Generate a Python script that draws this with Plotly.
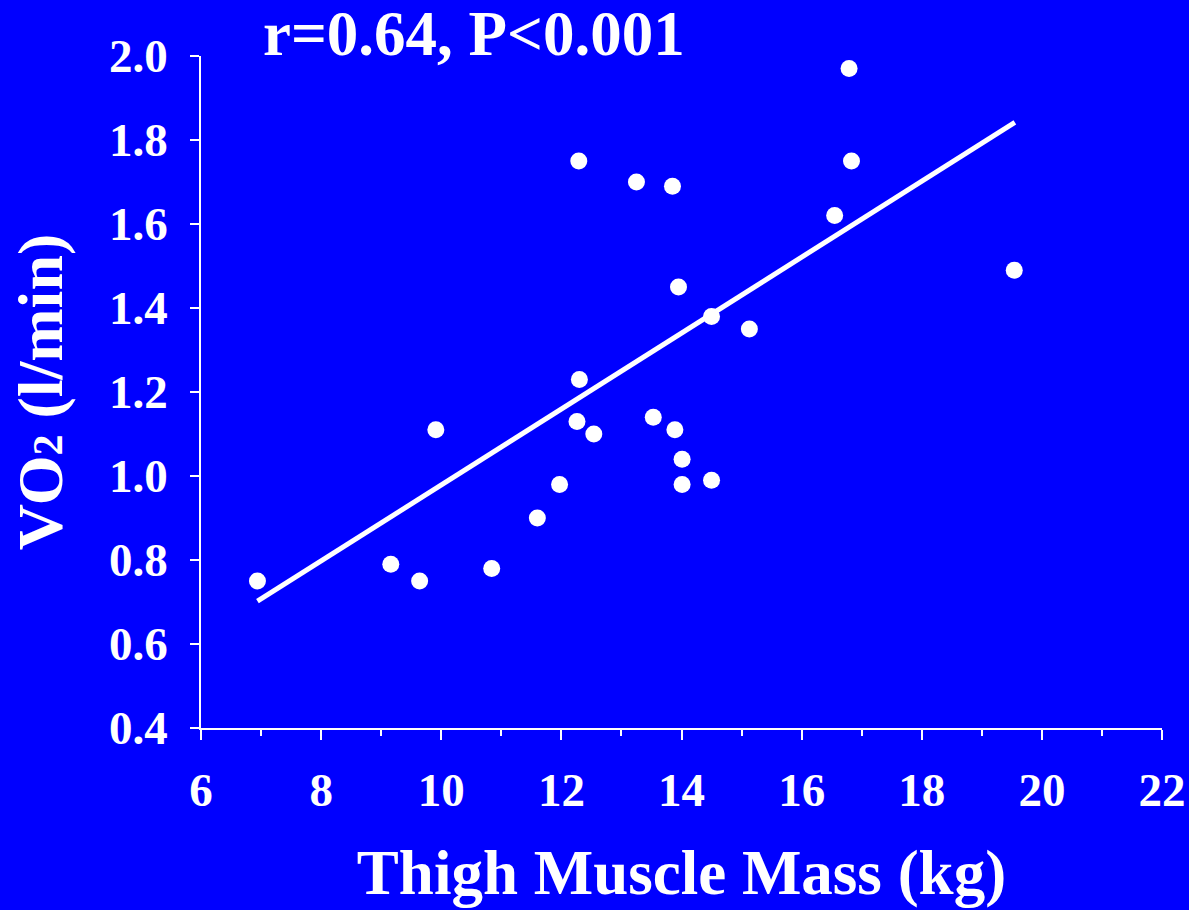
import plotly.graph_objects as go

# Data
thigh_mass = [6.94, 9.16, 9.64, 9.91, 10.84, 11.60, 11.97, 12.30, 12.26, 12.54,
              13.53, 13.89, 14.01, 14.01, 14.50, 16.79, 12.29, 16.83, 13.25, 13.85,
              16.55, 13.95, 14.50, 15.13, 19.54]
vo2 = [0.75, 0.79, 0.75, 1.11, 0.78, 0.90, 0.98, 1.23, 1.13, 1.10,
       1.14, 1.11, 1.04, 0.98, 0.99, 1.97, 1.75, 1.75, 1.70, 1.69,
       1.62, 1.45, 1.38, 1.35, 1.49]
fit_x = [6.94, 19.55]
fit_y = [0.702, 1.842]

x_ticks = [6, 8, 10, 12, 14, 16, 18, 20, 22]
y_ticks = [0.4, 0.6, 0.8, 1.0, 1.2, 1.4, 1.6, 1.8, 2.0]
y_tick_labels = ["0.4", "0.6", "0.8", "1.0", "1.2", "1.4", "1.6", "1.8", "2.0"]

stat_text = "r=0.64, P<0.001"
x_title = "Thigh Muscle Mass (kg)"
y_title = 'VO<span style="font-size:42px">2</span> (l/min)'

BG = "#0000FF"
FONT = "Liberation Serif"

fig = go.Figure()
fig.add_trace(go.Scatter(
    x=fit_x, y=fit_y, mode="lines",
    line=dict(color="white", width=5),
    hoverinfo="skip", showlegend=False,
))
fig.add_trace(go.Scatter(
    x=thigh_mass, y=vo2, mode="markers",
    marker=dict(color="white", size=17, line=dict(width=0)),
    cliponaxis=False, showlegend=False,
))

fig.update_layout(
    width=1189, height=910,
    margin=dict(l=201, r=27, t=56, b=182),
    paper_bgcolor=BG, plot_bgcolor=BG,
    font=dict(family=FONT, color="white", weight="bold"),
    xaxis=dict(
        range=[6, 22], tickvals=x_ticks, ticktext=[str(v) for v in x_ticks],
        showgrid=False, zeroline=False,
        showline=True, linecolor="white", linewidth=1.5,
        ticks="outside", ticklen=10, tickwidth=1.5, tickcolor="white",
        minor=dict(dtick=1, tick0=7, ticks="outside", ticklen=6, tickwidth=1.5, tickcolor="white", showgrid=False),
        tickfont=dict(size=47, family=FONT, color="white", weight="bold"),
        ticklabelstandoff=10,
        title=dict(text=x_title, font=dict(size=63, family=FONT, color="white", weight="bold"), standoff=35),
        automargin=False,
    ),
    yaxis=dict(
        range=[0.4, 2.0], tickvals=y_ticks, ticktext=y_tick_labels,
        showgrid=False, zeroline=False,
        showline=True, linecolor="white", linewidth=1.5,
        ticks="outside", ticklen=9, tickwidth=1.5, tickcolor="white",
        tickfont=dict(size=47, family=FONT, color="white", weight="bold"),
        ticklabelstandoff=13,
        title=dict(text=y_title, font=dict(size=64, family=FONT, color="white", weight="bold"), standoff=26),
        automargin=False,
    ),
    annotations=[dict(
        text=stat_text, xref="paper", yref="paper",
        x=(473.5 - 201) / 961, y=1.0, xanchor="center", yanchor="bottom",
        yshift=-15, showarrow=False,
        font=dict(size=63, family=FONT, color="white", weight="bold"),
    )],
)

fig.write_html("out.html")
